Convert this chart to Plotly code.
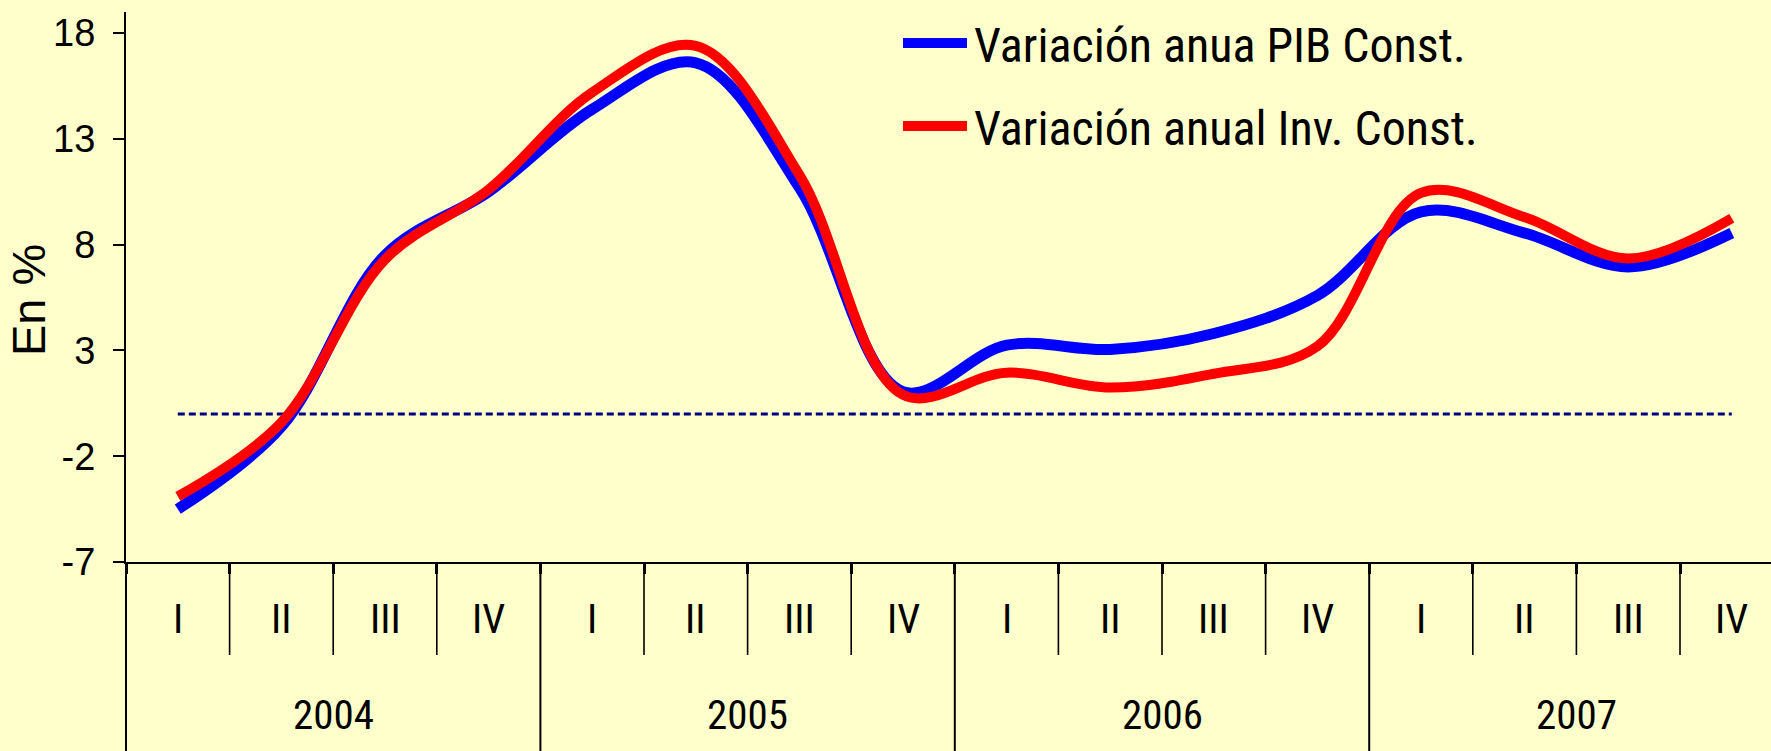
import plotly.graph_objects as go

# ---- data ----
quarters = ["I", "II", "III", "IV"] * 4
years = ["2004", "2005", "2006", "2007"]
pib = [-4.5, -0.6, 7.5, 10.5, 14.4, 16.6, 10.7, 1.05, 3.25, 3.05, 3.8, 5.6, 9.55, 8.55, 6.95, 8.55]
inv = [-3.9, -0.4, 7.3, 10.6, 15.2, 17.4, 11.3, 0.9, 1.95, 1.25, 1.9, 3.2, 10.45, 9.3, 7.35, 9.25]
zero_ref = [0] * 16
series_names = ["Variación anua PIB Const.", "Variación anual Inv. Const."]
y_ticks = [-7, -2, 3, 8, 13, 18]

# ---- layout constants ----
W, H = 1771, 751
ML, MR, MT, MB = 126, 0, 12, 189
PW, PH = W - ML - MR, H - MT - MB
QW = 103.6  # px per quarter
X0 = -0.5
X1 = X0 + PW / QW

BG = "#FFFFCC"
NARROW = "'Liberation Sans Narrow', 'Arial Narrow', 'Roboto Condensed', 'DejaVu Sans Condensed', 'Liberation Sans', Arial, sans-serif"
REG = "'Liberation Sans', Arial, sans-serif"

x = list(range(len(quarters)))

fig = go.Figure()
fig.add_trace(go.Scatter(x=x, y=zero_ref, mode="lines",
                         line=dict(color="#000080", width=3, dash="7px,4px"),
                         showlegend=False, hoverinfo="skip"))
fig.add_trace(go.Scatter(x=x, y=pib, mode="lines", name=series_names[0],
                         line=dict(color="#0000FF", width=11, shape="spline", smoothing=1),
                         showlegend=False))
fig.add_trace(go.Scatter(x=x, y=inv, mode="lines", name=series_names[1],
                         line=dict(color="#FF0000", width=10, shape="spline", smoothing=1),
                         showlegend=False))

def px_to_py(py):
    return (H - MB - py) / PH

def xpaper(v):
    return (v - X0) / (X1 - X0)

shapes = []
annotations = []
# dividers
for i in range(16):
    b = i - 0.5
    is_year = (i % 4 == 0)
    y_bot = px_to_py(H) if is_year else px_to_py(655)
    shapes.append(dict(type="line", xref="paper", yref="paper",
                       x0=xpaper(b), x1=xpaper(b), y0=0, y1=y_bot,
                       line=dict(color="black", width=2 if is_year else 1.6)))
# quarter labels
for i, q in enumerate(quarters):
    annotations.append(dict(x=i, y=px_to_py(619), xref="x", yref="paper",
                            text=q, showarrow=False, xanchor="center", yanchor="middle",
                            font=dict(family=NARROW, size=41, color="black")))
# year labels
for k, yr in enumerate(years):
    annotations.append(dict(x=4 * k + 1.5, y=px_to_py(715), xref="x", yref="paper",
                            text=yr, showarrow=False, xanchor="center", yanchor="middle",
                            font=dict(family=NARROW, size=41, color="black")))
# y title
annotations.append(dict(x=(28 - ML) / PW, y=px_to_py(300), xref="paper", yref="paper",
                        text="En %", textangle=-90, showarrow=False,
                        xanchor="center", yanchor="middle",
                        font=dict(family=REG, size=47, color="black")))
# manual legend
for name, col, ly in [(series_names[0], "#0000FF", 43), (series_names[1], "#FF0000", 126)]:
    shapes.append(dict(type="line", xref="paper", yref="paper",
                       x0=(903 - ML) / PW, x1=(967 - ML) / PW,
                       y0=px_to_py(ly), y1=px_to_py(ly),
                       line=dict(color=col, width=10)))
    annotations.append(dict(x=(972 - ML) / PW, y=px_to_py(ly + 2), xref="paper", yref="paper",
                            text=name, showarrow=False, xanchor="left", yanchor="middle",
                            font=dict(family=NARROW, size=48, color="black")))

fig.update_layout(
    width=W, height=H,
    margin=dict(l=ML, r=MR, t=MT, b=MB, pad=0),
    paper_bgcolor=BG, plot_bgcolor=BG,
    showlegend=False,
    shapes=shapes, annotations=annotations,
    xaxis=dict(range=[X0, X1], showgrid=False, zeroline=False,
               showline=True, linecolor="black", linewidth=2,
               tickvals=[i - 0.5 for i in range(16)], ticks="outside",
               ticklen=10, tickwidth=3, tickcolor="black", showticklabels=False),
    yaxis=dict(range=[-7, 19], showgrid=False, zeroline=False,
               showline=True, linecolor="black", linewidth=2,
               tickvals=y_ticks, ticktext=[str(v) for v in y_ticks],
               ticks="outside", ticklen=11, tickwidth=2, tickcolor="black",
               ticklabelstandoff=10,
               tickfont=dict(family=REG, size=38, color="black")),
)

post = ("document.body.style.margin='0px';"
        "document.body.style.padding='0px';"
        "document.body.style.overflow='hidden';"
        "document.body.style.backgroundColor='" + BG + "';")
fig.write_html("out.html", post_script=post, config={"displayModeBar": False})
